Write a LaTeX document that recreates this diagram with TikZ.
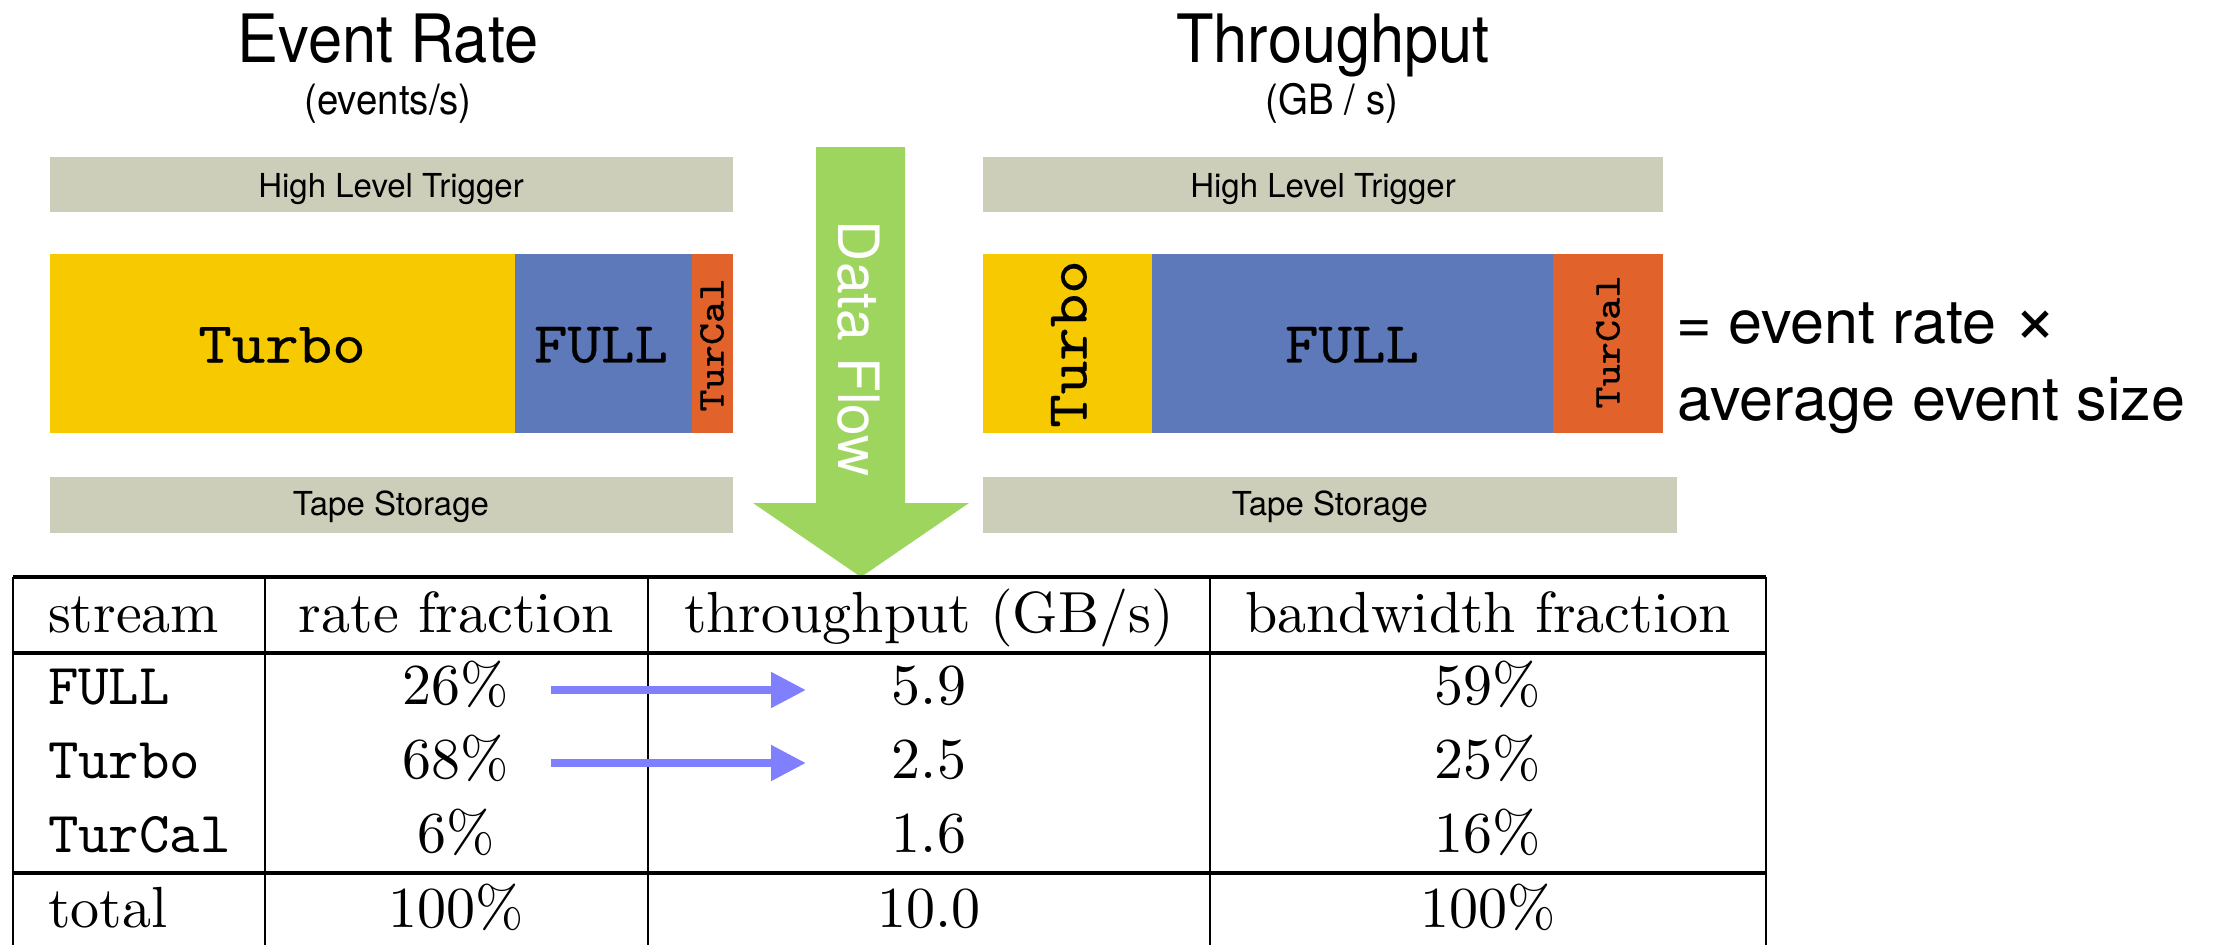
\documentclass[tikz,border=0pt]{standalone}
\usepackage{fontspec}
\usepackage{graphicx}
\newfontfamily\heros{TeX Gyre Heros}
\newfontfamily\barmono{lmmono10-regular.otf}[FakeBold=0.4]
\newfontfamily\barmonosmall{lmmono8-regular.otf}[FakeBold=0.3]
\usetikzlibrary{arrows.meta}
\definecolor{hltgray}{RGB}{205,206,186}
\definecolor{turboY}{RGB}{246,201,0}
\definecolor{fullB}{RGB}{93,121,185}
\definecolor{turcalO}{RGB}{225,99,43}
\definecolor{flowG}{RGB}{157,213,94}
\definecolor{arrB}{RGB}{128,128,255}
\newcommand\narrow[1]{\scalebox{0.92}[1]{#1}}
\newcommand\wide[1]{\scalebox{1.1}[1]{#1}}
\begin{document}
\begin{tikzpicture}[x=0.172414pt,y=-0.172414pt,
  txt/.style={inner sep=0pt,outer sep=0pt},
  title/.style={txt,font=\heros\fontsize{11.5}{13}\selectfont,anchor=base},
  unitlabel/.style={txt,font=\heros\fontsize{7.2}{8}\selectfont,anchor=base},
  boxlabel/.style={txt,font=\heros\fontsize{5.69}{7}\selectfont,anchor=base},
  barlabel/.style={txt,font=\barmono\fontsize{10}{12}\selectfont},
  smalllabel/.style={txt,font=\barmonosmall\fontsize{6.55}{8}\selectfont},
  eqlabel/.style={txt,font=\heros\fontsize{10.52}{12}\selectfont,anchor=base west},
  flowlabel/.style={txt,font=\heros\fontsize{9.83}{11}\selectfont,text=white},
  cell/.style={txt,font=\fontsize{10}{12}\selectfont,anchor=base},
  cellL/.style={cell,anchor=base west},
  hrule/.style={line width=0.55pt,draw=black},
  vrule/.style={line width=0.32pt,draw=black},
  rateflow/.style={-{Triangle[length=6.03pt,width=5.86pt]},line width=1.38pt,draw=arrB},
  greybox/.style={fill=hltgray}
]
\fill[white] (0,0) rectangle (2224,945);
\useasboundingbox (0,0) rectangle (2224,945);

% titles
\node[title] (evtitle) at (388,62) {\narrow{Event Rate}};
\node[unitlabel] (evunit) at (388,114) {\narrow{(events/s)}};
\node[title] (thtitle) at (1333,62) {\narrow{Throughput}};
\node[unitlabel] (thunit) at (1332,114) {\narrow{(GB / s)}};

% left panel
\fill[greybox] (50,157) rectangle (733,212);
\fill[turboY] (50,254) rectangle (515,433);
\fill[fullB] (515,254) rectangle (692,433);
\fill[turcalO] (692,254) rectangle (733,433);
\fill[greybox] (50,477) rectangle (733,533);
\node[boxlabel] (hltL) at (391,197) {High Level Trigger};
\node[boxlabel] (tapeL) at (391,515) {Tape Storage};
\node[barlabel] (turboL) at (282,345) {\wide{Turbo}};
\node[barlabel] (fullL) at (601,345) {\wide{FULL}};
\node[smalllabel,rotate=90] (turcalL) at (712,345) {\wide{TurCal}};

% right panel
\fill[greybox] (983,157) rectangle (1663,212);
\fill[turboY] (983,254) rectangle (1152,433);
\fill[fullB] (1152,254) rectangle (1553,433);
\fill[turcalO] (1553,254) rectangle (1663,433);
\fill[greybox] (983,477) rectangle (1677,533);
\node[boxlabel] (hltR) at (1323,197) {High Level Trigger};
\node[boxlabel] (tapeR) at (1330,515) {Tape Storage};
\node[barlabel,rotate=90] (turboR) at (1069,344) {\wide{Turbo}};
\node[barlabel] (fullR) at (1352,345) {\wide{FULL}};
\node[smalllabel,rotate=90] (turcalR) at (1608,342) {\wide{TurCal}};

% equation
\node[eqlabel] (eq1) at (1676,343) {= event rate {\fontsize{13}{12}\selectfont ×}};
\node[eqlabel] (eq2) at (1678,420) {average event size};

% data flow arrow
\fill[flowG] (816,147) -- (905,147) -- (905,503) -- (969,503) -- (861,577) -- (753,503) -- (816,503) -- cycle;
\node[flowlabel,rotate=-90] (flow) at (858.5,349) {Data Flow};

% table rules
\draw[hrule] (13,577) -- (1766,577);
\draw[hrule] (13,653) -- (1766,653);
\draw[hrule] (13,873) -- (1766,873);
\foreach \x in {13,265,648,1210,1766} \draw[vrule] (\x,577) -- (\x,945);

% table header
\node[cellL] (h1) at (48,632) {stream};
\node[cell] (h2) at (456,632) {rate fraction};
\node[cell] (h3) at (929,632) {throughput (GB/s)};
\node[cell] (h4) at (1488,632) {bandwidth fraction};
% rows
\node[cellL] (r1c1) at (48,704) {\texttt{FULL}};
\node[cell] (r1c2) at (456,704) {26\%};
\node[cell] (r1c3) at (929,704) {5.9};
\node[cell] (r1c4) at (1488,704) {59\%};
\node[cellL] (r2c1) at (48,778) {\texttt{Turbo}};
\node[cell] (r2c2) at (456,778) {68\%};
\node[cell] (r2c3) at (929,778) {2.5};
\node[cell] (r2c4) at (1488,778) {25\%};
\node[cellL] (r3c1) at (48,852) {\texttt{TurCal}};
\node[cell] (r3c2) at (456,852) {6\%};
\node[cell] (r3c3) at (929,852) {1.6};
\node[cell] (r3c4) at (1488,852) {16\%};
\node[cellL] (r4c1) at (48,927) {total};
\node[cell] (r4c2) at (456,927) {100\%};
\node[cell] (r4c3) at (929,927) {10.0};
\node[cell] (r4c4) at (1488,927) {100\%};

% blue arrows
\coordinate (a1s) at (551,690);
\coordinate (a1e) at (806,690);
\coordinate (a2s) at (551,763);
\coordinate (a2e) at (806,763);
\draw[rateflow] (a1s) -- (a1e);
\draw[rateflow] (a2s) -- (a2e);
\end{tikzpicture}
\end{document}
